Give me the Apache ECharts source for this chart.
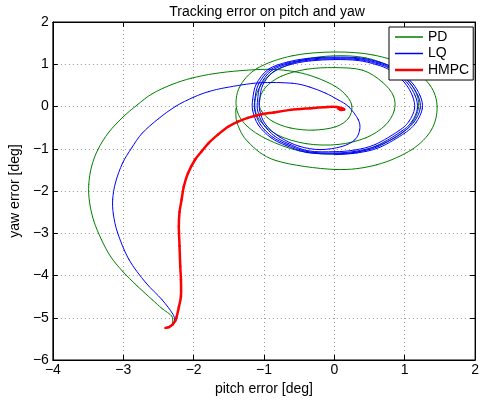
<!DOCTYPE html>
<html>
<head>
<meta charset="utf-8">
<script src="https://cdn.jsdelivr.net/npm/echarts@6/dist/echarts.min.js"></script>
<style>html,body{margin:0;padding:0;background:#fff}#c{width:482px;height:403px}</style>
</head>
<body>
<div id="c"></div>
<script>
const xTicks = [-4, -3, -2, -1, 0, 1, 2];
const yTicks = [-6, -5, -4, -3, -2, -1, 0, 1, 2];
const seriesNames = ['PD', 'LQ', 'HMPC'];
const seriesColors = ['#008000', '#0000ff', '#ff0000'];

const pdPitch = [-2.30,-2.31,-2.45,-2.59,-2.80,-3.01,-3.18,-3.31,-3.42,-3.48,-3.49,-3.45,-3.36,-3.21,-3.01,-2.80,-2.59,-2.31,-2.03,-1.70,-1.32,-0.90,-0.55,-0.25,0.02,0.18,0.25,
  0.20,0.02,-0.30,-0.62,-0.88,-1.03,-1.07,
  -0.98,-0.75,-0.40,0.00,0.40,0.68,0.84,0.85,0.72,0.45,0.05,-0.40,-0.80,-1.05,-1.13,
  -1.08,-0.88,-0.45,0.00,0.45,0.85,1.10,1.20,1.10,0.85,0.40,0.00,-0.50,-0.95,-1.25,-1.39,
  -1.35,-1.10,-0.60,0.00,0.55,1.05,1.36,1.46,1.38,1.10,0.60,0.00,-0.83,-1.22,-1.38,-1.40];
const pdYaw   = [-5.12,-4.96,-4.78,-4.57,-4.25,-3.90,-3.55,-3.15,-2.70,-2.25,-1.85,-1.42,-1.02,-0.62,-0.26,0.04,0.30,0.52,0.67,0.78,0.85,0.88,0.82,0.68,0.47,0.24,0.00,
  -0.28,-0.48,-0.56,-0.51,-0.35,-0.12,0.12,
  0.45,0.72,0.88,0.92,0.86,0.58,0.25,-0.10,-0.45,-0.74,-0.90,-0.88,-0.68,-0.35,0.00,
  0.40,0.80,1.10,1.20,1.15,0.90,0.50,0.05,-0.40,-0.75,-1.05,-1.13,-1.05,-0.78,-0.45,-0.05,
  0.45,0.90,1.20,1.29,1.22,0.95,0.50,0.00,-0.55,-1.02,-1.38,-1.49,-1.28,-0.85,-0.40,-0.05];

const lqPitch = [-2.37,-2.31,-2.27,-2.30,-2.45,-2.68,-2.92,-3.08,-3.14,-3.15,-3.11,-3.01,-2.88,-2.73,-2.50,-2.26,-2.00,-1.79,-1.53,-1.07,-0.60,-0.35,-0.13,0.05,0.20,0.34,0.36,0.29,0.10,
  -0.20,-0.50,-0.78,-0.98,-1.06,-1.06,-1.02,-0.87,-0.63,-0.34,0.00,0.33,0.60,0.80,1.00,1.11,1.14,1.06,0.92,0.58,0.29,0.00,
  -0.37,-0.65,-0.85,-1.01,-1.09,-1.09,-1.05,-0.90,-0.65,-0.35,0.00,0.34,0.62,0.82,1.03,1.15,1.18,1.10,0.95,0.60,0.30,0.00,
  -0.38,-0.67,-0.88,-1.05,-1.13,-1.13,-1.08,-0.92,-0.66,-0.36,0.00,0.35,0.63,0.84,1.06,1.19,1.22,1.13,0.97,0.62,0.31,0.00,
  -0.39,-0.69,-0.90,-1.08,-1.16,-1.16,-1.11,-0.94,-0.67,-0.37,0.00,0.36,0.64,0.86,1.09,1.22,1.25,1.16,1.00,0.64,0.32,0.00];
const lqYaw   = [-5.22,-5.17,-5.05,-4.90,-4.57,-4.17,-3.62,-2.99,-2.55,-2.20,-1.80,-1.34,-0.98,-0.63,-0.29,0.00,0.22,0.35,0.45,0.56,0.55,0.46,0.32,0.16,0.00,-0.31,-0.55,-0.79,-0.95,
  -1.02,-0.94,-0.72,-0.42,-0.10,0.16,0.50,0.82,0.99,1.08,1.11,1.09,0.99,0.85,0.56,0.25,-0.05,-0.35,-0.57,-0.90,-1.03,-1.07,
  -1.05,-0.88,-0.70,-0.42,-0.10,0.16,0.51,0.84,1.01,1.10,1.13,1.11,1.01,0.87,0.57,0.25,-0.05,-0.36,-0.59,-0.93,-1.06,-1.10,
  -1.07,-0.90,-0.72,-0.43,-0.10,0.17,0.52,0.86,1.03,1.12,1.15,1.13,1.03,0.88,0.58,0.25,-0.05,-0.37,-0.61,-0.95,-1.08,-1.12,
  -1.09,-0.92,-0.74,-0.44,-0.10,0.17,0.53,0.88,1.05,1.14,1.17,1.15,1.05,0.90,0.59,0.25,-0.05,-0.38,-0.63,-0.97,-1.10,-1.14];

const hmpcPitch = [-2.40,-2.35,-2.30,-2.26,-2.24,-2.21,-2.18,-2.18,-2.19,-2.20,-2.21,-2.20,-2.17,-2.14,-2.08,-1.98,-1.89,-1.79,-1.65,-1.51,-1.37,-1.23,-1.05,-0.86,-0.62,-0.34,-0.10,0.03,0.10,0.14,0.09,0.06,0.12];
const hmpcYaw   = [-5.24,-5.22,-5.16,-5.07,-4.97,-4.75,-4.49,-4.10,-3.78,-3.30,-2.84,-2.50,-2.20,-1.90,-1.58,-1.26,-1.07,-0.87,-0.66,-0.48,-0.36,-0.27,-0.19,-0.14,-0.08,-0.04,-0.01,-0.01,-0.04,-0.07,-0.08,-0.05,-0.05];

const zip = (a, b) => a.map((v, i) => [v, b[i]]);
const fmt = v => String(v).replace('-', '\u2212');
const FONT = 'Liberation Sans';
const FS = 14;

// Smooth curve series: each data item draws a Catmull-Rom segment to the next point,
// positioned with the chart's own coordinate system (api.coord).
function curveSeries(name, xs, ys, color, width, z) {
  const data = zip(xs, ys);
  const n = data.length;
  return {
    name, type: 'custom', data, z, clip: true,
    encode: {x: 0, y: 1},
    itemStyle: {color},
    renderItem: function (params, api) {
      const i = params.dataIndex;
      if (i >= n - 1) return null;
      const p0 = api.coord(data[Math.max(i - 1, 0)]);
      const p1 = api.coord(data[i]);
      const p2 = api.coord(data[i + 1]);
      const p3 = api.coord(data[Math.min(i + 2, n - 1)]);
      return {
        type: 'bezierCurve',
        shape: {
          x1: p1[0], y1: p1[1],
          cpx1: p1[0] + (p2[0] - p0[0]) / 6, cpy1: p1[1] + (p2[1] - p0[1]) / 6,
          cpx2: p2[0] - (p3[0] - p1[0]) / 6, cpy2: p2[1] - (p3[1] - p1[1]) / 6,
          x2: p2[0], y2: p2[1]
        },
        style: {stroke: color, fill: null, lineWidth: width, lineCap: 'round'}
      };
    }
  };
}

const chart = echarts.init(document.getElementById('c'), null, {renderer: 'canvas'});
const gridLine = {show: true, lineStyle: {color: '#999', type: [1, 3], width: 1}};
const tick = {inside: true, length: 5, lineStyle: {color: '#000'}};
const axLine = {onZero: false, lineStyle: {color: '#000'}};
const thin = 'path://M0,0M0,4.25H28V5.75H0ZM28,10';
const thick = 'path://M0,0M0,3.75H28V6.25H0ZM28,10';
chart.setOption({
  animation: false,
  backgroundColor: '#fff',
  title: {
    text: 'Tracking error on pitch and yaw',
    left: 262, top: 0, textAlign: 'center',
    textStyle: {fontFamily: FONT, fontSize: FS, fontWeight: 'normal', color: '#000'}
  },
  legend: {
    data: [
      {name: seriesNames[0], icon: thin, itemStyle: {color: seriesColors[0]}},
      {name: seriesNames[1], icon: thin, itemStyle: {color: seriesColors[1]}},
      {name: seriesNames[2], icon: thick, itemStyle: {color: seriesColors[2]}}
    ],
    orient: 'vertical',
    left: 389, top: 27,
    itemWidth: 28, itemHeight: 10, itemGap: 2.5,
    padding: [3, 4, 3, 6],
    backgroundColor: '#fff', borderColor: '#000', borderWidth: 1,
    textStyle: {fontFamily: FONT, fontSize: FS, color: '#000'}
  },
  grid: {left: 49, right: 6, top: 22, bottom: 43, show: true, borderColor: '#000', borderWidth: 1, backgroundColor: 'transparent'},
  xAxis: [{
    type: 'value', min: -4, max: 2, interval: 1,
    name: 'pitch error [deg]', nameLocation: 'middle', nameGap: 18,
    nameTextStyle: {fontFamily: FONT, fontSize: FS, color: '#000'},
    axisLine: axLine, axisTick: tick,
    axisLabel: {formatter: fmt, fontFamily: FONT, fontSize: FS, color: '#000', margin: 3},
    splitLine: gridLine
  }, {
    type: 'value', min: -4, max: 2, interval: 1, position: 'top',
    axisLine: axLine, axisTick: tick,
    axisLabel: {show: false}, splitLine: {show: false}
  }],
  yAxis: [{
    type: 'value', min: -6, max: 2, interval: 1,
    name: 'yaw error [deg]', nameLocation: 'middle', nameGap: 22,
    nameTextStyle: {fontFamily: FONT, fontSize: FS, color: '#000'},
    axisLine: axLine, axisTick: tick,
    axisLabel: {formatter: fmt, fontFamily: FONT, fontSize: FS, color: '#000', margin: 4},
    splitLine: gridLine
  }, {
    type: 'value', min: -6, max: 2, interval: 1, position: 'right',
    axisLine: axLine, axisTick: tick,
    axisLabel: {show: false}, splitLine: {show: false}
  }],
  series: [
    curveSeries('PD', pdPitch, pdYaw, seriesColors[0], 1, 2),
    curveSeries('LQ', lqPitch, lqYaw, seriesColors[1], 1, 3),
    curveSeries('HMPC', hmpcPitch, hmpcYaw, seriesColors[2], 2.5, 4)
  ]
});
</script>
</body>
</html>
